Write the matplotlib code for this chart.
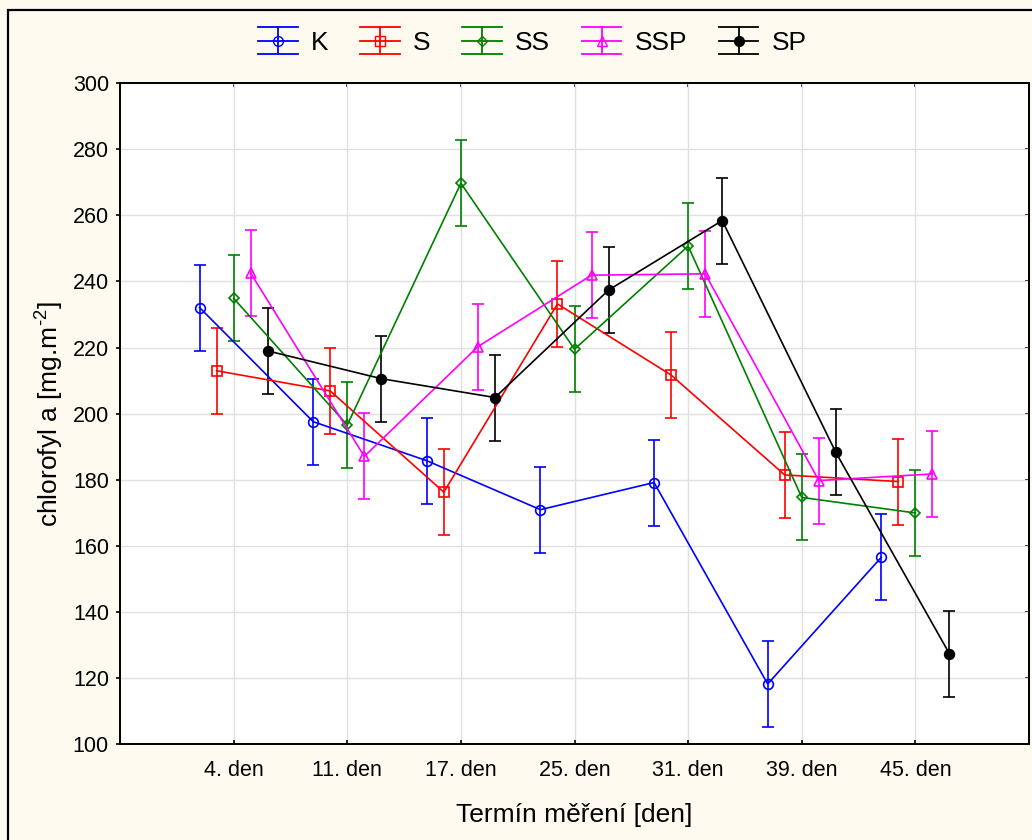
import numpy as np
import matplotlib.pyplot as plt
from matplotlib.lines import Line2D
from matplotlib.patches import Rectangle
from matplotlib.legend_handler import HandlerBase

plt.rcParams['font.family'] = ['Liberation Sans', 'DejaVu Sans']
plt.rcParams['mathtext.fontset'] = 'custom'
plt.rcParams['mathtext.rm'] = 'Liberation Sans'
plt.rcParams['mathtext.default'] = 'regular'

# prumerne hodnoty chlorofylu a pro jednotlive varianty
terminy = ['4. den', '11. den', '17. den', '25. den', '31. den', '39. den', '45. den']
skupiny = ['K', 'S', 'SS', 'SSP', 'SP']
K = [232.1, 197.6, 185.8, 171.0, 179.2, 118.3, 156.6]
S = [213.0, 206.9, 176.3, 233.2, 211.7, 181.5, 179.5]
SS = [234.9, 196.6, 269.7, 219.5, 250.7, 174.7, 170.0]
SSP = [242.5, 187.1, 220.3, 241.9, 242.3, 179.8, 181.8]
SP = [219.0, 210.6, 204.9, 237.4, 258.4, 188.3, 127.4]
chyba = 13.0

barvy = ['#0000ff', '#ff0000', '#008000', '#ff00ff', '#000000']
znacky = ['o', 's', 'D', '^', 'o']
vypln = ['none', 'none', 'none', 'none', '#000000']
velikosti = [7, 6.5, 5, 7, 7]


class ChybaHandler(HandlerBase):
    # svisla usecka s vousy pres celou sirku + vodorovna cara + znacka
    def create_artists(self, legend, orig_handle, xdescent, ydescent,
                       width, height, fontsize, trans):
        c = orig_handle.get_color()
        yc = height / 2 - ydescent
        x0 = -xdescent
        x1 = x0 + width
        xm = (x0 + x1) / 2
        h = 10
        art = [
            Line2D([x0, x1], [yc, yc], color=c, lw=1.3),
            Line2D([xm, xm], [yc - h, yc + h], color=c, lw=1.3),
            Line2D([x0, x1], [yc - h, yc - h], color=c, lw=1.3),
            Line2D([x0, x1], [yc + h, yc + h], color=c, lw=1.3),
            Line2D([xm], [yc], marker=orig_handle.get_marker(), color=c,
                   mfc=orig_handle.get_markerfacecolor(), mec=c,
                   ms=orig_handle.get_markersize(), lw=0),
        ]
        for a in art:
            a.set_transform(trans)
        return art


fig = plt.figure(figsize=(10.32, 8.4), dpi=100, facecolor='#fffaf0')
ax = fig.add_axes([0.1163, 0.1137, 0.8808, 0.7875])
ax.set_facecolor('white')

x = np.arange(1, len(terminy) + 1)
posuny = np.linspace(-0.3, 0.3, len(skupiny))
data = [K, S, SS, SSP, SP]

proxy = []
for i, nazev in enumerate(skupiny):
    ax.errorbar(x + posuny[i], data[i], yerr=chyba, color=barvy[i],
                marker=znacky[i], mfc=vypln[i], mec=barvy[i], ms=velikosti[i],
                mew=1.2, lw=1.2, elinewidth=1.2, capsize=4.5, capthick=1.2,
                zorder=3)
    proxy.append(Line2D([], [], color=barvy[i], marker=znacky[i],
                        mfc=vypln[i], ms=velikosti[i]))

ax.set_xlim(0, 8)
ax.set_ylim(100, 300)
ax.set_xticks(x)
ax.set_xticklabels(terminy)
ax.set_yticks(np.arange(100, 301, 20))
ax.grid(True, color='#e0e0e0', lw=1.0, zorder=0)
ax.set_axisbelow(True)

for s in ax.spines.values():
    s.set_linewidth(1.4)
ax.tick_params(axis='y', direction='out', length=3, width=1.2, pad=5,
               labelsize=15.5)
ax.tick_params(axis='x', direction='in', length=3, width=1.2, pad=11,
               labelsize=15.5)

# vnitrni znacky na prave a horni ose
prava = ax.secondary_yaxis('right')
prava.set_yticks(np.arange(100, 301, 20))
prava.tick_params(direction='in', length=3, width=1.2, labelright=False)
prava.spines['right'].set_linewidth(1.4)
horni = ax.secondary_xaxis('top')
horni.set_xticks(x)
horni.tick_params(direction='in', length=3, width=1.2, labeltop=False)
horni.spines['top'].set_linewidth(1.4)

ax.set_xlabel('Termín měření [den]', fontsize=19, labelpad=16)
ax.set_ylabel('chlorofyl a [mg.m$^{\u20102}$]', fontsize=19, labelpad=5)

fig.legend(proxy, skupiny, handler_map={Line2D: ChybaHandler()},
           loc='center', bbox_to_anchor=(0.516, 0.949), ncol=5,
           frameon=False, fontsize=19, handlelength=1.5,
           handletextpad=0.5, columnspacing=1.2)

fig.patches.append(Rectangle((8 / 1032, -0.1), 1.2, 830 / 840 + 0.1,
                             transform=fig.transFigure, fill=False,
                             ec='black', lw=1.6))

fig.savefig('out.png', dpi=100, facecolor=fig.get_facecolor())
